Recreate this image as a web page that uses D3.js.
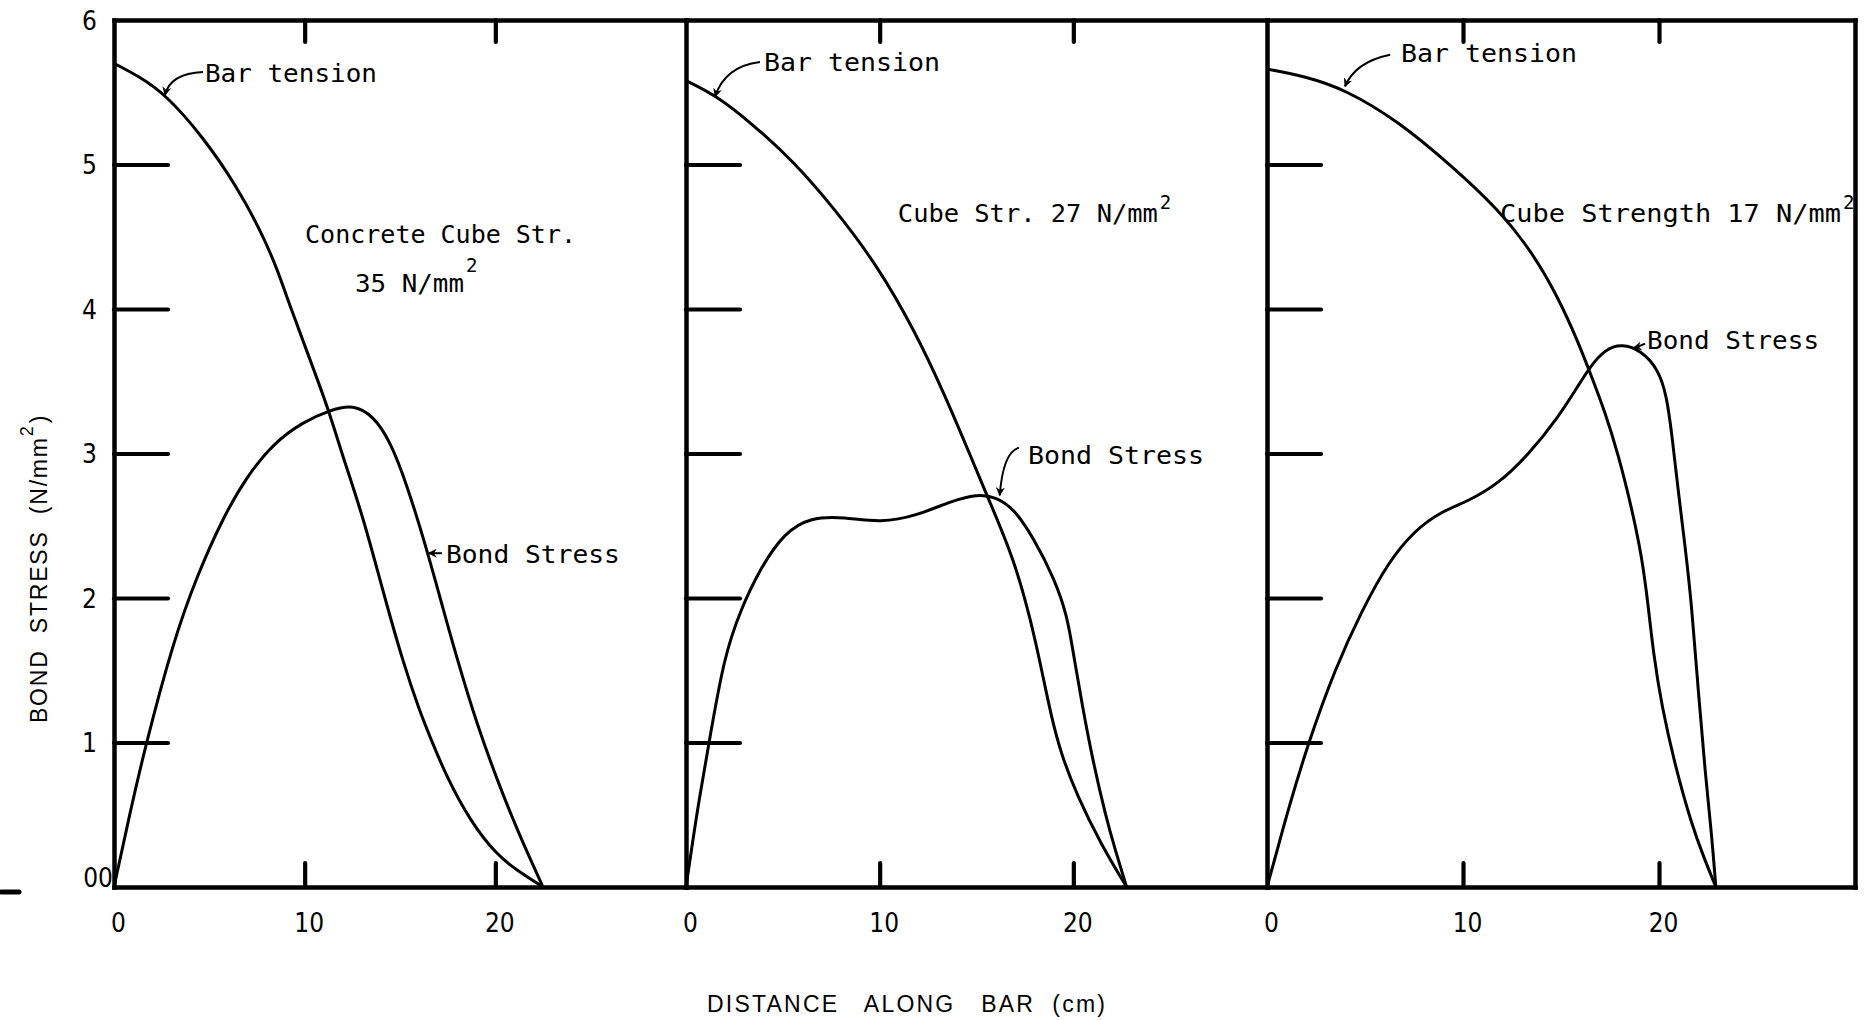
<!DOCTYPE html>
<html><head><meta charset="utf-8">
<script src="https://cdn.jsdelivr.net/npm/d3@7"></script>
<style>
html,body{margin:0;padding:0;background:#fff;}
svg{display:block;}
</style></head><body>
<svg id="chart" width="1867" height="1020"></svg>
<script>
// ---------------- data ----------------
const xTicks = [0, 10, 20];
const xTickLabels = ["0", "10", "20"];
const yTicks = [0, 1, 2, 3, 4, 5, 6];
const yTickLabels = ["00", "1", "2", "3", "4", "5", "6"];

// Panel 1 : cube strength 35 N/mm2
const tension35X = [0, 1.3, 2.67, 4.68, 6.43, 7.66, 8.53, 9.23, 10.28, 11.24, 12.02, 13.07, 14.12, 15.17, 16.05, 16.57, 17.45, 18.67, 20.07, 21.3, 22.5];
const tension35Y = [5.70, 5.61, 5.49, 5.19, 4.85, 4.55, 4.29, 4.02, 3.65, 3.31, 2.97, 2.56, 2.04, 1.55, 1.21, 1.04, 0.76, 0.46, 0.22, 0.10, 0];
const bond35X = [0, 0.8, 1.63, 3.11, 4.34, 5.73, 6.96, 8.35, 9.93, 11.33, 12.55, 13.6, 14.47, 15.35, 16.4, 17.27, 17.97, 19.02, 20.24, 21.29, 22.5];
const bond35Y = [0, 0.49, 0.97, 1.70, 2.15, 2.56, 2.84, 3.07, 3.22, 3.30, 3.34, 3.26, 3.09, 2.79, 2.34, 1.92, 1.59, 1.13, 0.69, 0.35, 0];

// Panel 2 : cube strength 27 N/mm2
const tension27X = [0, 1.53, 3.34, 5.58, 7.81, 9.88, 11.77, 13.32, 14.7, 15.7, 16.93, 17.8, 18.4, 18.83, 19.34, 20.2, 21.41, 22.75];
const tension27Y = [5.58, 5.48, 5.29, 5.02, 4.67, 4.30, 3.86, 3.42, 2.98, 2.66, 2.27, 1.85, 1.48, 1.20, 0.93, 0.63, 0.30, 0];
const bond27X = [0, 0.35, 0.67, 1.19, 1.96, 2.82, 3.86, 5.06, 6.44, 8.16, 10.05, 11.94, 13.67, 15.04, 15.99, 16.93, 17.97, 19.0, 19.69, 20.03, 20.46, 20.98, 21.67, 22.2, 22.75];
const bond27Y = [0, 0.32, 0.60, 1.00, 1.59, 1.92, 2.21, 2.45, 2.56, 2.56, 2.52, 2.57, 2.67, 2.72, 2.70, 2.62, 2.41, 2.14, 1.88, 1.59, 1.26, 0.89, 0.49, 0.24, 0];

// Panel 3 : cube strength 17 N/mm2
const tension17X = [0, 1.94, 3.98, 6.7, 9.42, 11.8, 13.5, 14.86, 15.88, 16.48, 17.24, 17.93, 18.61, 19.12, 19.45, 19.71, 20.14, 20.82, 21.67, 22.3, 22.9];
const tension17Y = [5.66, 5.61, 5.52, 5.30, 4.99, 4.69, 4.40, 4.08, 3.77, 3.56, 3.29, 2.99, 2.62, 2.29, 1.95, 1.62, 1.25, 0.84, 0.43, 0.20, 0];
const bond17X = [0, 0.55, 1.09, 2.11, 3.47, 4.83, 6.19, 7.55, 8.91, 10.27, 11.8, 13.33, 14.86, 15.88, 16.48, 17.24, 18.1, 19.12, 19.97, 20.39, 20.65, 20.99, 21.33, 21.67, 22.0, 22.35, 22.69, 22.9];
const bond17Y = [0, 0.27, 0.54, 1.00, 1.51, 1.91, 2.25, 2.47, 2.60, 2.67, 2.79, 2.99, 3.25, 3.47, 3.60, 3.72, 3.76, 3.71, 3.58, 3.40, 3.14, 2.73, 2.36, 1.95, 1.36, 0.80, 0.36, 0];

const tensionLabel = "Bar tension";
const bondLabel = "Bond Stress";
const strengthCaptions = [["Concrete Cube Str.", "35 N/mm"], ["Cube Str. 27 N/mm"], ["Cube Strength 17 N/mm"]];
const xTitle = "DISTANCE   ALONG   BAR  (cm)";
const yTitle = "BOND  STRESS  (N/mm";

// ---------------- layout ----------------
const W = 1867, H = 1020;
const panelEdges = [114, 686, 1267, 1855];
const plotTop = 20, plotBottom = 887;
const monoFont = "'DejaVu Sans Mono', 'Liberation Mono', monospace";
const tickFont = "'Liberation Sans Narrow', 'DejaVu Sans Condensed', 'Liberation Sans', sans-serif";
const titleFont = "'Liberation Sans', 'DejaVu Sans', sans-serif";

// annotation placement in each panel's data units (x cm, y N/mm2) + text widths in px
const annotations = [
  { tension: {x: 4.77, y: 5.57, len: 172}, tensionArrow: [[4.67, 5.64], [2.94, 5.63], [2.67, 5.48]],
    captions: [{x: 10.02, y: 4.46, len: 271}, {x: 12.64, y: 4.12, len: 109, supDy: -20}],
    bond: {x: 17.41, y: 2.24, len: 174}, bondArrow: [[17.2, 2.31], [16.95, 2.31], [16.5, 2.31]] },
  { tension: {x: 4.03, y: 5.65, len: 176}, tensionArrow: [[3.82, 5.71], [2.01, 5.68], [1.5, 5.47]],
    captions: [{x: 10.94, y: 4.60, len: 260, supDy: -13}],
    bond: {x: 17.66, y: 2.93, len: 176}, bondArrow: [[17.19, 3.04], [16.37, 3.01], [16.2, 2.71]] },
  { tension: {x: 6.84, y: 5.71, len: 176}, tensionArrow: [[6.28, 5.76], [4.49, 5.71], [3.98, 5.54]],
    captions: [{x: 11.89, y: 4.60, len: 341, supDy: -13}],
    bond: {x: 19.39, y: 3.72, len: 172}, bondArrow: [[19.29, 3.76], [19.0, 3.74], [18.7, 3.73]] }
];

const panels = [
  {tx: tension35X, ty: tension35Y, bx: bond35X, by: bond35Y},
  {tx: tension27X, ty: tension27Y, bx: bond27X, by: bond27Y},
  {tx: tension17X, ty: tension17Y, bx: bond17X, by: bond17Y}
];

// ---------------- drawing ----------------
const svg = d3.select("#chart");
svg.append("rect").attr("width", W).attr("height", H).attr("fill", "#fff");

const defs = svg.append("defs");
defs.append("marker").attr("id", "arrow")
  .attr("viewBox", "0 0 10 10").attr("refX", 9).attr("refY", 5)
  .attr("markerWidth", 4.5).attr("markerHeight", 4.5).attr("orient", "auto")
  .append("path").attr("d", "M0,0 L10,5 L0,10 L3,5 Z").attr("fill", "#000");

const y = d3.scaleLinear().domain([0, 6]).range([plotBottom, plotTop]);
const frameW = 4.5, curveW = 3;

function styleAxis(g, w) {
  g.selectAll("path.domain").attr("stroke", "#000").attr("stroke-width", w).attr("stroke-linecap", "square");
  g.selectAll(".tick line").attr("stroke", "#000").attr("stroke-width", 4.2).attr("stroke-linecap", "round");
}

panels.forEach((p, i) => {
  const x = d3.scaleLinear().domain([0, 30]).range([panelEdges[i], panelEdges[i + 1]]);
  const g = svg.append("g");

  // bottom frame + upward ticks
  const gb = g.append("g").attr("transform", `translate(0,${y(0)})`)
    .call(d3.axisBottom(x).tickValues(xTicks.filter(v => v > 0)).tickSizeInner(-24).tickSizeOuter(0).tickFormat(""));
  styleAxis(gb, frameW);
  // top frame + downward ticks
  const gt = g.append("g").attr("transform", `translate(0,${y(6)})`)
    .call(d3.axisTop(x).tickValues(xTicks.filter(v => v > 0)).tickSizeInner(-22).tickSizeOuter(0).tickFormat(""));
  styleAxis(gt, frameW);
  // left frame + inward ticks
  const gl = g.append("g").attr("transform", `translate(${x(0)},0)`)
    .call(d3.axisLeft(y).tickValues(yTicks.filter(v => v > 0 && v < 6)).tickSizeInner(-54).tickSizeOuter(0).tickFormat(""));
  styleAxis(gl, frameW);
  if (i === panels.length - 1) {
    const gr = g.append("g").attr("transform", `translate(${x(30)},0)`)
      .call(d3.axisRight(y).tickValues([]).tickSizeOuter(0));
    styleAxis(gr, frameW);
  }

  // x tick labels
  const gxl = g.append("g").attr("transform", `translate(4,${y(0)})`)
    .call(d3.axisBottom(x).tickValues(xTicks).tickSize(0).tickPadding(27)
      .tickFormat((d, k) => xTickLabels[k]));
  gxl.select("path.domain").remove();
  gxl.selectAll("text").attr("font-family", tickFont).attr("font-size", 26).attr("fill", "#000");

  // y tick labels (first panel only)
  if (i === 0) {
    const gyl = g.append("g").attr("transform", `translate(${x(0) - 17},0)`)
      .call(d3.axisLeft(y).tickValues(yTicks).tickSize(0).tickPadding(0)
        .tickFormat((d, k) => yTickLabels[k]));
    gyl.select("path.domain").remove();
    gyl.selectAll("text").attr("font-family", tickFont).attr("font-size", 26).attr("fill", "#000")
      .attr("dy", "0.36em");
    gyl.selectAll(".tick").filter(d => d === 0).select("text")
      .attr("x", 16).attr("dy", "-0.02em");
  }

  // curves (smooth hand-drawn look)
  const line = d3.line().x(d => x(d[0])).y(d => y(d[1])).curve(d3.curveBasis);
  const tension = d3.zip(p.tx, p.ty);
  const bond = d3.zip(p.bx, p.by);
  g.append("path").datum(tension).attr("d", line)
    .attr("fill", "none").attr("stroke", "#000").attr("stroke-width", curveW).attr("stroke-linejoin", "round");
  g.append("path").datum(bond).attr("d", line)
    .attr("fill", "none").attr("stroke", "#000").attr("stroke-width", curveW).attr("stroke-linejoin", "round");

  // annotations
  const a = annotations[i];
  const txt = (pos, str) => g.append("text")
    .attr("x", x(pos.x)).attr("y", y(pos.y))
    .attr("font-family", monoFont).attr("font-size", 24).attr("fill", "#000")
    .attr("textLength", pos.len).attr("lengthAdjust", "spacingAndGlyphs")
    .text(str);
  txt(a.tension, tensionLabel);
  txt(a.bond, bondLabel);
  a.captions.forEach((c, k) => {
    txt(c, strengthCaptions[i][k]);
    if (c.supDy !== undefined) {
      g.append("text").attr("x", x(c.x) + c.len + 2).attr("y", y(c.y) + c.supDy)
        .attr("font-family", monoFont).attr("font-size", 19).attr("fill", "#000").text("2");
    }
  });
  const arrowPath = pts => {
    const q = pts.map(d => [x(d[0]), y(d[1])]);
    return `M${q[0][0]},${q[0][1]} Q${q[1][0]},${q[1][1]} ${q[2][0]},${q[2][1]}`;
  };
  [a.tensionArrow, a.bondArrow].forEach(ar => {
    g.append("path").attr("d", arrowPath(ar)).attr("fill", "none")
      .attr("stroke", "#000").attr("stroke-width", 2).attr("marker-end", "url(#arrow)");
  });
});

// stray mark at the left of the origin (as in the scan)
svg.append("line").attr("x1", 1).attr("x2", 19).attr("y1", y(0) + 5).attr("y2", y(0) + 5)
  .attr("stroke", "#000").attr("stroke-width", 5).attr("stroke-linecap", "round");

// axis titles
svg.append("text").attr("x", 707).attr("y", 1012)
  .attr("font-family", titleFont).attr("font-size", 23).attr("fill", "#000")
  .attr("textLength", 398).attr("lengthAdjust", "spacing")
  .style("white-space", "pre").text(xTitle);

const yt = svg.append("text").attr("transform", "translate(47,723) rotate(-90)")
  .attr("font-family", titleFont).attr("font-size", 23).attr("fill", "#000")
  .style("white-space", "pre");
yt.append("tspan").attr("textLength", 285).attr("lengthAdjust", "spacing").text(yTitle);
yt.append("tspan").attr("dy", -14).attr("font-size", 18).text("2");
yt.append("tspan").attr("dy", 14).attr("dx", 3).text(")");
</script>
</body></html>
